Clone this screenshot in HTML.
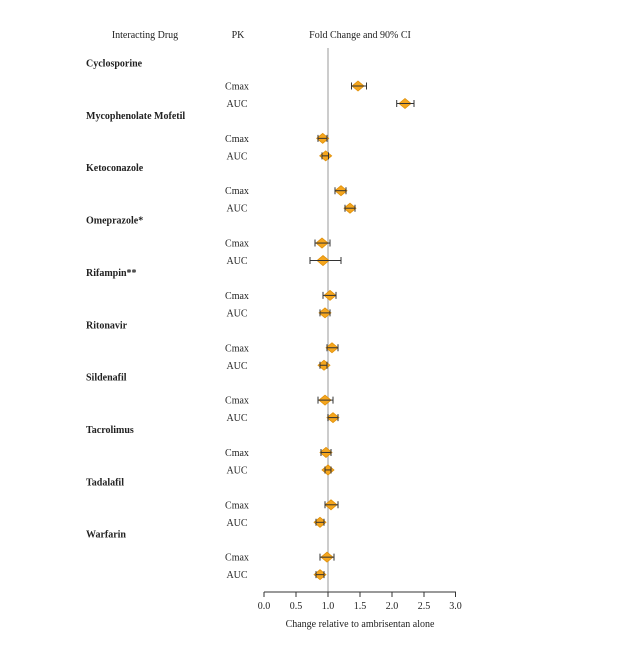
<!DOCTYPE html>
<html><head><meta charset="utf-8"><style>body{margin:0;background:#fff}svg{display:block}text{font-family:"Liberation Serif",serif;font-size:10px;fill:#222}</style></head>
<body>
<svg width="638" height="656" viewBox="0 0 638 656" xmlns="http://www.w3.org/2000/svg">
<text x="145" y="38" text-anchor="middle">Interacting Drug</text>
<text x="238" y="38" text-anchor="middle">PK</text>
<text x="360" y="38" text-anchor="middle">Fold Change and 90% CI</text>
<line x1="328" y1="48" x2="328" y2="592" stroke="#bbb" stroke-width="1.5"/>
<g id="rows"></g>
<line x1="264" y1="592" x2="456" y2="592" stroke="#333" stroke-width="1"/>
<g stroke="#333" stroke-width="1">
<line x1="264" y1="592" x2="264" y2="597"/><line x1="296" y1="592" x2="296" y2="597"/><line x1="328" y1="592" x2="328" y2="597"/><line x1="360" y1="592" x2="360" y2="597"/><line x1="392" y1="592" x2="392" y2="597"/><line x1="424" y1="592" x2="424" y2="597"/><line x1="455.5" y1="592" x2="455.5" y2="597"/>
</g>
<g text-anchor="middle">
<text x="264" y="609">0.0</text><text x="296" y="609">0.5</text><text x="328" y="609">1.0</text><text x="360" y="609">1.5</text><text x="392" y="609">2.0</text><text x="424" y="609">2.5</text><text x="455.5" y="609">3.0</text>
<text x="360" y="627">Change relative to ambrisentan alone</text>
</g>
<script>
var d=[["Cyclosporine",[358,351.5,366.5],[405,396.7,414]],["Mycophenolate Mofetil",[322.7,318,327],[325.7,322,328.5]],["Ketoconazole",[341,335,346],[350,345,355]],["Omeprazole*",[322,315,330],[323,310,341]],["Rifampin**",[330,323,336],[325,320,330]],["Ritonavir",[332,327,338],[324,320,327]],["Sildenafil",[325,318,333],[333,328,338]],["Tacrolimus",[326,321,331],[328,325,331]],["Tadalafil",[331,325,338],[320,316,324]],["Warfarin",[327,320,334],[320,316,324]]];
var s="";
d.forEach(function(r,i){var y=63+52.35*i;
s+='<text x="86" y="'+(y+3.5)+'" font-weight="bold">'+r[0]+'</text>';
[["Cmax",r[1],y+23],["AUC",r[2],y+40.5]].forEach(function(p){var c=p[1],yy=p[2];
s+='<text x="237" y="'+(yy+3.5)+'" text-anchor="middle">'+p[0]+'</text>';
s+='<path d="M'+(c-6)+' '+yy+'L'+c+' '+(yy-5)+'L'+(c+6)+' '+yy+'L'+c+' '+(yy+5)+'Z" fill="#f5a61e" stroke="#e0900a" stroke-width="0.8"/>';
s+='<g stroke="#333" stroke-width="1"><line x1="'+c[1]+'" y1="'+yy+'" x2="'+c[2]+'" y2="'+yy+'"/><line x1="'+c[1]+'" y1="'+(yy-3.5)+'" x2="'+c[1]+'" y2="'+(yy+3.5)+'"/><line x1="'+c[2]+'" y1="'+(yy-3.5)+'" x2="'+c[2]+'" y2="'+(yy+3.5)+'"/></g>';
});});
</script>
</svg>
<script>
(function(){var d=[["Cyclosporine",[358,351.5,366.5],[405,396.7,414]],["Mycophenolate Mofetil",[322.7,318,327],[325.7,322,328.5]],["Ketoconazole",[341,335,346],[350,345,355]],["Omeprazole*",[322,315,330],[323,310,341]],["Rifampin**",[330,323,336],[325,320,330]],["Ritonavir",[332,327,338],[324,320,327]],["Sildenafil",[325,318,333],[333,328,338]],["Tacrolimus",[326,321,331],[328,325,331]],["Tadalafil",[331,325,338],[320,316,324]],["Warfarin",[327,320,334],[320,316,324]]];
var NS="http://www.w3.org/2000/svg",g=document.getElementById("rows");
function el(t,a,txt){var e=document.createElementNS(NS,t);for(var k in a)e.setAttribute(k,a[k]);if(txt)e.textContent=txt;g.appendChild(e);return e;}
d.forEach(function(r,i){var y=63+52.35*i;
el("text",{x:86,y:y+3.5,"font-weight":"bold"},r[0]);
[["Cmax",r[1],y+23],["AUC",r[2],y+40.5]].forEach(function(p){var v=p[1],c=v[0],yy=p[2];
el("text",{x:237,y:yy+3.5,"text-anchor":"middle"},p[0]);
el("path",{d:"M"+(c-6)+" "+yy+"L"+c+" "+(yy-5)+"L"+(c+6)+" "+yy+"L"+c+" "+(yy+5)+"Z",fill:"#f5a61e",stroke:"#e0900a","stroke-width":0.8});
var a={stroke:"#333","stroke-width":1};
function ln(x1,y1,x2,y2){var o={x1:x1,y1:y1,x2:x2,y2:y2};for(var k in a)o[k]=a[k];el("line",o);}
ln(v[1],yy,v[2],yy);ln(v[1],yy-3.5,v[1],yy+3.5);ln(v[2],yy-3.5,v[2],yy+3.5);
});});})();
</script>
</body></html>
